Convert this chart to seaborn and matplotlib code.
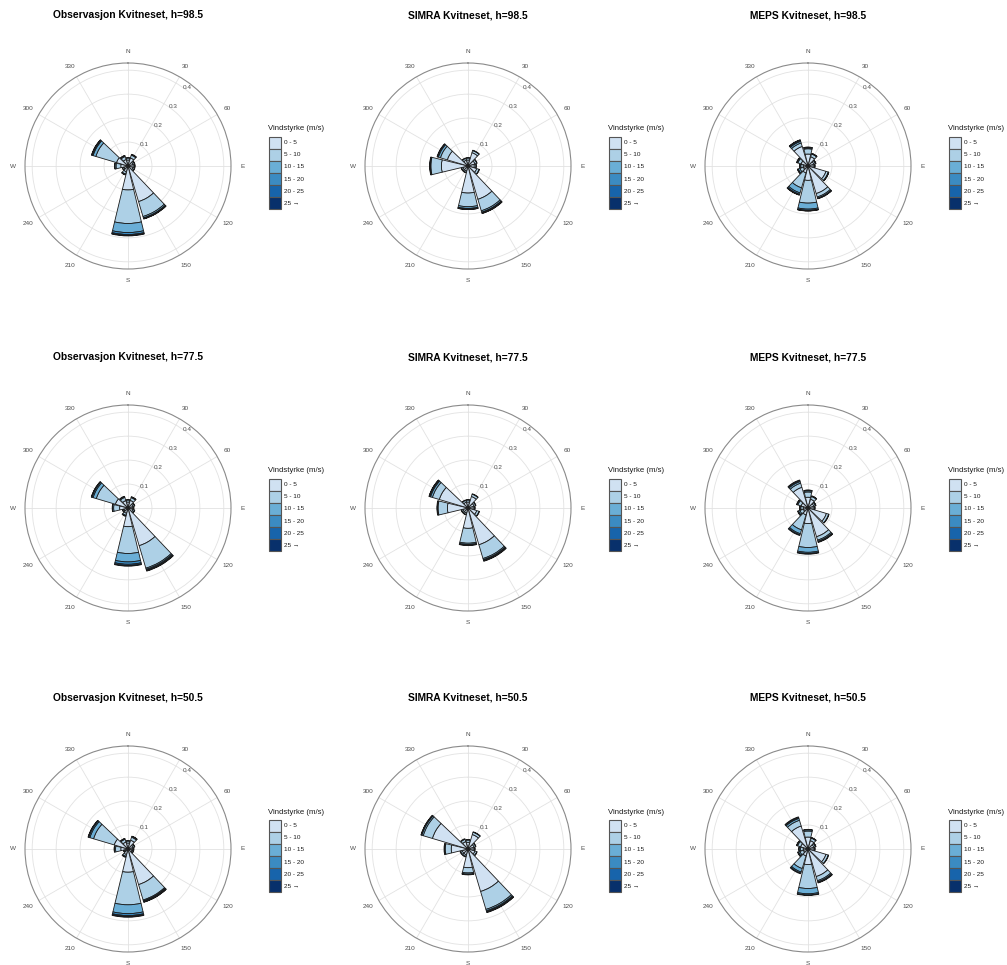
import numpy as np
import pandas as pd
import matplotlib
matplotlib.use("Agg")
import matplotlib.pyplot as plt
from matplotlib.patches import Rectangle
import seaborn as sns

sns.set_theme(style="white")
plt.rcParams["font.family"] = ["Liberation Sans", "DejaVu Sans"]

# Wind direction sectors (degrees, clockwise from north) and speed classes
directions = np.arange(0, 360, 30)
direction_labels = ["N", "30", "60", "E", "120", "150", "S", "210", "240", "W", "300", "330"]
speed_classes = ["0 - 5", "5 - 10", "10 - 15", "15 - 20", "20 - 25", "25 \u2192"]
radial_ticks = [0.1, 0.2, 0.3, 0.4]

# Relative frequency per sector (rows 0°, 30°, ..., 330°) and speed class (columns)
obs_985 = [
    [0.025, 0.008, 0.002, 0.000, 0.000, 0.000],
    [0.035, 0.012, 0.003, 0.001, 0.000, 0.000],
    [0.022, 0.006, 0.002, 0.000, 0.000, 0.000],
    [0.022, 0.006, 0.002, 0.000, 0.000, 0.000],
    [0.022, 0.006, 0.002, 0.000, 0.000, 0.000],
    [0.155, 0.065, 0.006, 0.003, 0.001, 0.001],
    [0.100, 0.140, 0.038, 0.008, 0.004, 0.002],
    [0.025, 0.010, 0.003, 0.001, 0.000, 0.000],
    [0.018, 0.006, 0.001, 0.000, 0.000, 0.000],
    [0.030, 0.020, 0.005, 0.001, 0.000, 0.000],
    [0.050, 0.090, 0.012, 0.004, 0.002, 0.001],
    [0.028, 0.013, 0.004, 0.001, 0.000, 0.000],
]
simra_985 = [
    [0.025, 0.008, 0.002, 0.000, 0.000, 0.000],
    [0.058, 0.009, 0.002, 0.000, 0.000, 0.000],
    [0.030, 0.008, 0.002, 0.000, 0.000, 0.000],
    [0.026, 0.007, 0.002, 0.000, 0.000, 0.000],
    [0.038, 0.010, 0.002, 0.000, 0.000, 0.000],
    [0.145, 0.050, 0.006, 0.003, 0.002, 0.001],
    [0.113, 0.057, 0.007, 0.003, 0.001, 0.001],
    [0.022, 0.006, 0.002, 0.000, 0.000, 0.000],
    [0.022, 0.006, 0.002, 0.000, 0.000, 0.000],
    [0.111, 0.044, 0.003, 0.001, 0.001, 0.000],
    [0.090, 0.030, 0.009, 0.004, 0.002, 0.000],
    [0.025, 0.008, 0.002, 0.000, 0.000, 0.000],
]
meps_985 = [
    [0.050, 0.022, 0.004, 0.002, 0.001, 0.000],
    [0.040, 0.012, 0.002, 0.001, 0.000, 0.000],
    [0.025, 0.007, 0.002, 0.001, 0.000, 0.000],
    [0.022, 0.006, 0.002, 0.000, 0.000, 0.000],
    [0.078, 0.010, 0.002, 0.001, 0.000, 0.000],
    [0.120, 0.015, 0.005, 0.002, 0.001, 0.000],
    [0.060, 0.095, 0.025, 0.005, 0.002, 0.001],
    [0.030, 0.065, 0.022, 0.006, 0.003, 0.001],
    [0.020, 0.015, 0.007, 0.003, 0.001, 0.000],
    [0.020, 0.010, 0.004, 0.001, 0.000, 0.000],
    [0.030, 0.014, 0.004, 0.002, 0.000, 0.000],
    [0.085, 0.015, 0.007, 0.004, 0.002, 0.001],
]
obs_775 = [
    [0.025, 0.008, 0.002, 0.000, 0.000, 0.000],
    [0.033, 0.012, 0.003, 0.001, 0.000, 0.000],
    [0.022, 0.006, 0.002, 0.000, 0.000, 0.000],
    [0.018, 0.005, 0.002, 0.000, 0.000, 0.000],
    [0.022, 0.006, 0.002, 0.000, 0.000, 0.000],
    [0.164, 0.098, 0.005, 0.004, 0.002, 0.002],
    [0.078, 0.112, 0.035, 0.010, 0.005, 0.003],
    [0.023, 0.009, 0.003, 0.001, 0.000, 0.000],
    [0.018, 0.005, 0.002, 0.000, 0.000, 0.000],
    [0.035, 0.025, 0.005, 0.001, 0.000, 0.000],
    [0.055, 0.083, 0.014, 0.005, 0.002, 0.001],
    [0.032, 0.014, 0.004, 0.001, 0.000, 0.000],
]
simra_775 = [
    [0.025, 0.008, 0.002, 0.000, 0.000, 0.000],
    [0.050, 0.010, 0.002, 0.000, 0.000, 0.000],
    [0.026, 0.007, 0.002, 0.000, 0.000, 0.000],
    [0.022, 0.006, 0.002, 0.000, 0.000, 0.000],
    [0.038, 0.010, 0.002, 0.000, 0.000, 0.000],
    [0.160, 0.060, 0.005, 0.003, 0.002, 0.002],
    [0.085, 0.062, 0.005, 0.003, 0.002, 0.000],
    [0.022, 0.006, 0.002, 0.000, 0.000, 0.000],
    [0.022, 0.006, 0.002, 0.000, 0.000, 0.000],
    [0.086, 0.039, 0.003, 0.002, 0.000, 0.000],
    [0.125, 0.030, 0.008, 0.004, 0.002, 0.001],
    [0.025, 0.008, 0.002, 0.000, 0.000, 0.000],
]
meps_775 = [
    [0.045, 0.022, 0.005, 0.002, 0.001, 0.000],
    [0.038, 0.012, 0.002, 0.001, 0.000, 0.000],
    [0.025, 0.007, 0.002, 0.001, 0.000, 0.000],
    [0.022, 0.006, 0.002, 0.000, 0.000, 0.000],
    [0.080, 0.010, 0.002, 0.000, 0.000, 0.000],
    [0.125, 0.015, 0.005, 0.003, 0.002, 0.000],
    [0.065, 0.100, 0.020, 0.005, 0.003, 0.000],
    [0.030, 0.065, 0.017, 0.005, 0.003, 0.000],
    [0.020, 0.015, 0.006, 0.003, 0.001, 0.000],
    [0.020, 0.010, 0.004, 0.001, 0.000, 0.000],
    [0.030, 0.014, 0.004, 0.002, 0.000, 0.000],
    [0.090, 0.018, 0.007, 0.004, 0.003, 0.000],
]
obs_505 = [
    [0.025, 0.008, 0.002, 0.000, 0.000, 0.000],
    [0.038, 0.013, 0.004, 0.001, 0.000, 0.000],
    [0.022, 0.006, 0.002, 0.000, 0.000, 0.000],
    [0.018, 0.005, 0.002, 0.000, 0.000, 0.000],
    [0.018, 0.005, 0.002, 0.000, 0.000, 0.000],
    [0.155, 0.067, 0.004, 0.003, 0.002, 0.001],
    [0.097, 0.136, 0.037, 0.008, 0.004, 0.003],
    [0.024, 0.008, 0.003, 0.001, 0.000, 0.000],
    [0.014, 0.005, 0.001, 0.000, 0.000, 0.000],
    [0.030, 0.022, 0.005, 0.001, 0.000, 0.000],
    [0.060, 0.090, 0.016, 0.005, 0.002, 0.001],
    [0.030, 0.012, 0.003, 0.001, 0.000, 0.000],
]
simra_505 = [
    [0.028, 0.009, 0.003, 0.000, 0.000, 0.000],
    [0.063, 0.010, 0.002, 0.000, 0.000, 0.000],
    [0.026, 0.007, 0.002, 0.000, 0.000, 0.000],
    [0.022, 0.006, 0.002, 0.000, 0.000, 0.000],
    [0.030, 0.008, 0.002, 0.000, 0.000, 0.000],
    [0.185, 0.078, 0.006, 0.004, 0.002, 0.002],
    [0.078, 0.022, 0.005, 0.002, 0.001, 0.000],
    [0.025, 0.007, 0.003, 0.000, 0.000, 0.000],
    [0.025, 0.007, 0.003, 0.000, 0.000, 0.000],
    [0.070, 0.025, 0.003, 0.002, 0.000, 0.000],
    [0.155, 0.040, 0.006, 0.003, 0.001, 0.000],
    [0.032, 0.010, 0.003, 0.000, 0.000, 0.000],
]
meps_505 = [
    [0.050, 0.025, 0.005, 0.002, 0.000, 0.000],
    [0.036, 0.011, 0.002, 0.001, 0.000, 0.000],
    [0.025, 0.007, 0.002, 0.001, 0.000, 0.000],
    [0.022, 0.006, 0.002, 0.000, 0.000, 0.000],
    [0.078, 0.010, 0.002, 0.000, 0.000, 0.000],
    [0.120, 0.018, 0.005, 0.003, 0.002, 0.000],
    [0.065, 0.100, 0.022, 0.005, 0.002, 0.000],
    [0.030, 0.055, 0.015, 0.005, 0.003, 0.000],
    [0.020, 0.015, 0.006, 0.003, 0.001, 0.000],
    [0.020, 0.012, 0.005, 0.002, 0.000, 0.000],
    [0.032, 0.013, 0.004, 0.001, 0.000, 0.000],
    [0.100, 0.025, 0.008, 0.004, 0.003, 0.000],
]

panels = [
    ("Observasjon Kvitneset, h=98.5", obs_985),
    ("SIMRA Kvitneset, h=98.5", simra_985),
    ("MEPS Kvitneset, h=98.5", meps_985),
    ("Observasjon Kvitneset, h=77.5", obs_775),
    ("SIMRA Kvitneset, h=77.5", simra_775),
    ("MEPS Kvitneset, h=77.5", meps_775),
    ("Observasjon Kvitneset, h=50.5", obs_505),
    ("SIMRA Kvitneset, h=50.5", simra_505),
    ("MEPS Kvitneset, h=50.5", meps_505),
]

# Long-format table of all roses
records = []
for title, table in panels:
    for d, row in zip(directions, table):
        for cls, freq in zip(speed_classes, row):
            records.append({"panel": title, "direction": d, "speed": cls, "freq": freq})
df = pd.DataFrame(records)

blues = sns.color_palette("Blues", as_cmap=True)
class_colors = [blues(v) for v in (0.2, 0.33, 0.5, 0.65, 0.8, 1.0)]

# Figure geometry in pixels
W, H = 1007, 965
R_MAX = 0.43
R_PX = 103
col_x = [128, 468, 808]
row_y = [166, 508, 849]

fig = plt.figure(figsize=(W / 100, H / 100), dpi=100)
overlay = fig.add_axes([0, 0, 1, 1], zorder=5)
overlay.set_xlim(0, W)
overlay.set_ylim(H, 0)
overlay.axis("off")
overlay.patch.set_alpha(0)

text_col = "#4d4d4d"
for i, (title, _) in enumerate(panels):
    cx, cy = col_x[i % 3], row_y[i // 3]
    ax = fig.add_axes([(cx - R_PX) / W, (H - cy - R_PX) / H, 2 * R_PX / W, 2 * R_PX / H],
                      projection="polar")
    ax.set_theta_zero_location("N")
    ax.set_theta_direction(-1)
    ax.set_facecolor("white")
    ax.set_axisbelow(True)

    wide = (df[df.panel == title]
            .pivot(index="direction", columns="speed", values="freq")
            .reindex(columns=speed_classes))
    theta = np.deg2rad(wide.index.values)
    bottom = np.zeros(len(theta))
    for k, cls in enumerate(speed_classes):
        h = wide[cls].values
        keep = h > 0
        ax.bar(theta[keep], h[keep], width=np.deg2rad(27), bottom=bottom[keep],
               color=class_colors[k], edgecolor="#1a1a1a", linewidth=0.6, zorder=3)
        bottom = bottom + h

    ax.set_ylim(0, R_MAX)
    ax.set_xticks(np.deg2rad(directions))
    ax.set_xticklabels([])
    ax.set_yticks(radial_ticks)
    ax.set_yticklabels([])
    ax.tick_params(length=0, pad=0)
    ax.grid(True, color="#e2e2e2", linewidth=0.6)
    ax.spines["polar"].set_color("#8a8a8a")
    ax.spines["polar"].set_linewidth(0.8)

    for d, lab in zip(directions, direction_labels):
        ax.text(np.deg2rad(d), 0.48, lab, ha="center", va="center",
                fontsize=4.6, color=text_col, clip_on=False)
    for v in radial_ticks:
        ax.text(np.deg2rad(37), v + 0.01, f"{v:.1f}", ha="center", va="center",
                fontsize=4.6, color=text_col, zorder=4)

    overlay.text(cx, cy - 151, title, ha="center", va="center",
                 fontsize=7.4, fontweight="bold", color="black")

    # speed-class legend
    overlay.text(cx + 140, cy - 37, "Vindstyrke (m/s)", ha="left", va="center",
                 fontsize=5.6, color="#1a1a1a")
    key_h = 12.1
    for k, cls in enumerate(speed_classes):
        top = cy - 29.3 + k * key_h
        overlay.add_patch(Rectangle((cx + 141, top), 12, key_h, facecolor=class_colors[k],
                                    edgecolor="#555555", linewidth=0.8))
        overlay.text(cx + 156.5, top + key_h / 2, cls, ha="left", va="center",
                     fontsize=4.6, color="#1a1a1a")

fig.savefig("out.png", dpi=100, facecolor="white")
